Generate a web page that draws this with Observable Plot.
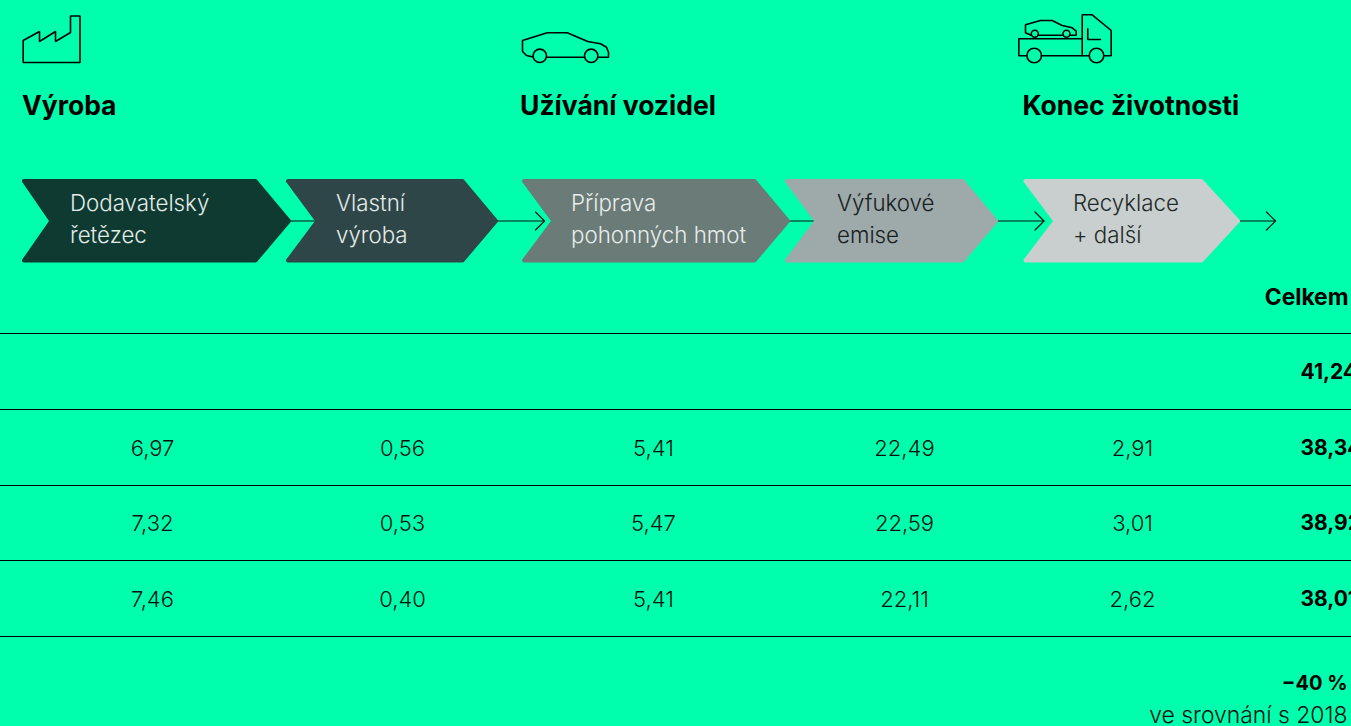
<!DOCTYPE html>
<html lang="cs">
<head>
<meta charset="utf-8">
<script src="https://cdn.jsdelivr.net/npm/d3@7"></script>
<script src="https://cdn.jsdelivr.net/npm/@observablehq/plot@0.6"></script>
<style>
html,body{margin:0;padding:0;background:#00FFAD;overflow:hidden}
svg{display:block}
</style>
</head>
<body>
<div id="chart"></div>
<script>
// ---- data ----
const phases = ["Výroba", "Užívání vozidel", "Konec životnosti"];
const stages = ["Dodavatelský\nřetězec", "Vlastní\nvýroba", "Příprava\npohonných hmot", "Výfukové\nemise", "Recyklace\n+ další"];
const row2 = [6.97, 0.56, 5.41, 22.49, 2.91];
const row3 = [7.32, 0.53, 5.47, 22.59, 3.01];
const row4 = [7.46, 0.40, 5.41, 22.11, 2.62];
const totals = [41.24, 38.34, 38.92, 38.01];
const totalHeader = "Celkem";
const changeLabel = "−40 %";
const changeNote = "ve srovnání s 2018";

// ---- layout ----
const W = 1351, H = 726, BG = "#00FFAD";
const FONT_B = "Inter", FONT_L = "Inter";
const phaseX = [21.5, 519.5, 1022];
const stageFill = ["#0E3A31", "#2F4648", "#6B7B78", "#9EA9A9", "#C9CFCE"];
const stageInk = ["#E4ECE9", "#E4ECE9", "#E8EEEC", "#16201E", "#1E2A28"];
const stageTextX = [69.5, 335.5, 570.5, 836.5, 1072.5];
const chev = [
  {l:23.5, n:51, tr:255, t:288.5},
  {l:287.5, n:317, tr:462, t:495.5},
  {l:523.5, n:553, tr:754, t:787.5},
  {l:786.5, n:816, tr:962, t:995.5},
  {l:1025, n:1055, tr:1201, t:1237.5}
];
const colX = [152, 402, 653, 904, 1132];
const rowY = [372, 448, 523, 599];
const ruleY = [333, 409, 485, 560, 636];
const fmt = v => v.toFixed(2).replace(".", ",");

const chevPts = chev.flatMap((c, i) => [
  [c.l, 180.5], [c.tr, 180.5], [c.t, 220.5], [c.tr, 260], [c.l, 260], [c.n, 220.5]
].map(([x, y]) => ({x, y, i})));

const flowLines = [
  [[290, 220.5], [318, 220.5]],
  [[497, 220.5], [544, 220.5]], [[535, 211.5], [544, 220.5], [535, 229.5]],
  [[789, 220.5], [818, 220.5]],
  [[997, 220.5], [1043.5, 220.5]], [[1034.5, 211.5], [1043.5, 220.5], [1034.5, 229.5]],
  [[1240, 220.5], [1275, 220.5]], [[1266, 211.5], [1275, 220.5], [1266, 229.5]]
];
const icons = [
  [[22.7,40],[39,31],[39,41],[55,31],[55,41],[70,32],[70,15.5],[79.5,15.5],[79.5,62],[22.7,62],[22.7,40]],
  [[532.7,56.5],[526,55],[522,51],[522,40],[546.7,32.3],[566.7,32.3],[587.3,41],[600,43.3],[606,46.7],[608,51.7],[608,56.7],[597.5,56.7]],
  [[546,56.7],[584,56.7]],
  [[1081.7,38.3],[1081.7,14.3],[1091.7,14.3],[1110.7,30],[1110.7,55.3],[1103.3,55.3]],
  [[1088.7,55.3],[1040.9,55.3]],
  [[1026.4,55.3],[1018.3,55.3],[1018.3,38.3],[1081.7,38.3],[1081.7,55.3]],
  [[1087.3,28.3],[1087.3,39],[1100,39]],
  [[1030.7,34.7],[1025,32.3],[1025,24.3],[1040,20],[1051.7,20],[1061.7,25],[1071.7,27.3],[1075.7,30.7],[1075.7,34.7],[1069.5,34.7]],
  [[1037.8,34.7],[1062.5,34.7]]
];
const wheels = [
  {x:539.3,y:55.3,r:6.7},{x:590.7,y:55.3,r:6.7},
  {x:1033.7,y:55,r:7.3},{x:1096,y:55,r:7.3},
  {x:1034.3,y:33.3,r:3.5},{x:1066,y:33.3,r:3.5}
];
const toPts = list => list.flatMap((pts, i) => pts.map(([x, y]) => ({x, y, i})));

const cells = [row2, row3, row4].flatMap((row, r) =>
  row.map((v, c) => ({x: colX[c], y: rowY[r + 1], label: fmt(v)})));

const plot = Plot.plot({
  width: W, height: H, margin: 0,
  style: {background: BG, overflow: "hidden"},
  x: {domain: [0, W], range: [0, W], axis: null},
  y: {domain: [0, H], range: [0, H], axis: null},
  r: {type: "identity"},
  marks: [
    Plot.ruleY(ruleY, {stroke: "#000", strokeWidth: 1}),
    Plot.line(toPts(flowLines), {x: "x", y: "y", z: "i", stroke: "#06120F", strokeWidth: 1.2, curve: "linear"}),
    Plot.line(chevPts, {
      x: "x", y: "y", z: "i",
      fill: d => stageFill[d.i], stroke: d => stageFill[d.i],
      strokeWidth: 4, strokeLinejoin: "round", curve: "linear-closed"
    }),
    Plot.line(toPts(icons), {x: "x", y: "y", z: "i", stroke: "#000", strokeWidth: 1.6, strokeLinejoin: "miter", curve: "linear"}),
    Plot.dot(wheels, {x: "x", y: "y", r: "r", stroke: "#000", strokeWidth: 1.6, fill: "none"}),
    Plot.text(phases, {
      x: (d, i) => phaseX[i], y: 106, text: d => d, textAnchor: "start", lineAnchor: "middle",
      fontFamily: FONT_B, fontWeight: 700, fontSize: 26.5, fill: "#000"
    }),
    Plot.text(stages, {
      x: (d, i) => stageTextX[i], y: 216.5, text: d => d, textAnchor: "start", lineAnchor: "middle",
      fontFamily: FONT_L, fontWeight: 300, fontSize: 22.3, lineHeight: 1.43,
      fill: (d, i) => stageInk[i]
    }),
    Plot.text(cells, {
      x: "x", y: "y", text: "label", textAnchor: "middle", lineAnchor: "middle",
      fontFamily: FONT_L, fontWeight: 300, fontSize: 22, fill: "#06120F"
    }),
    Plot.text([totalHeader], {
      x: 1348, y: 297, text: d => d, textAnchor: "end", lineAnchor: "middle",
      fontFamily: FONT_B, fontWeight: 700, fontSize: 22.8, fill: "#000"
    }),
    Plot.text(totals, {
      x: 1300, y: (d, i) => rowY[i], text: fmt, textAnchor: "start", lineAnchor: "middle",
      fontFamily: FONT_B, fontWeight: 700, fontSize: 21, fill: "#000"
    }),
    Plot.text([changeLabel], {
      x: 1347, y: 683, text: d => d, textAnchor: "end", lineAnchor: "middle",
      fontFamily: FONT_B, fontWeight: 700, fontSize: 20, fill: "#000"
    }),
    Plot.text([changeNote], {
      x: 1347, y: 715, text: d => d, textAnchor: "end", lineAnchor: "middle",
      fontFamily: FONT_L, fontWeight: 300, fontSize: 22.9, fill: "#06120F"
    })
  ]
});
document.getElementById("chart").append(plot);
</script>
</body>
</html>
